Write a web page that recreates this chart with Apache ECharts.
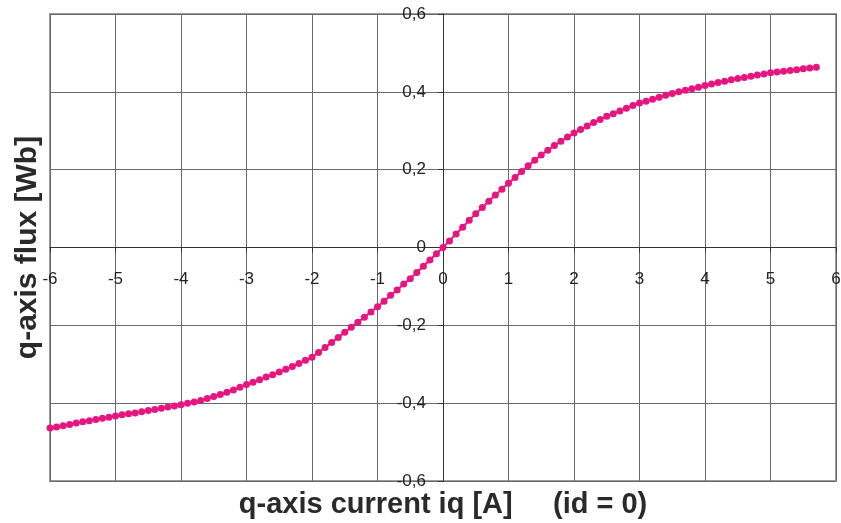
<!DOCTYPE html>
<html>
<head>
<meta charset="utf-8">
<script src="https://cdn.jsdelivr.net/npm/echarts@6/dist/echarts.min.js"></script>
<style>
  html, body { margin: 0; padding: 0; background: #fff; }
  #chart { width: 841px; height: 523px; }
</style>
</head>
<body>
<div id="chart"></div>
<script>
// q-axis current iq [A], sampled every 0.1 A
const currents = [
  -6.0, -5.9, -5.8, -5.7, -5.6, -5.5, -5.4, -5.3, -5.2, -5.1,
  -5.0, -4.9, -4.8, -4.7, -4.6, -4.5, -4.4, -4.3, -4.2, -4.1,
  -4.0, -3.9, -3.8, -3.7, -3.6, -3.5, -3.4, -3.3, -3.2, -3.1,
  -3.0, -2.9, -2.8, -2.7, -2.6, -2.5, -2.4, -2.3, -2.2, -2.1,
  -2.0, -1.9, -1.8, -1.7, -1.6, -1.5, -1.4, -1.3, -1.2, -1.1,
  -1.0, -0.9, -0.8, -0.7, -0.6, -0.5, -0.4, -0.3, -0.2, -0.1,
  0.0, 0.1, 0.2, 0.3, 0.4, 0.5, 0.6, 0.7, 0.8, 0.9,
  1.0, 1.1, 1.2, 1.3, 1.4, 1.5, 1.6, 1.7, 1.8, 1.9,
  2.0, 2.1, 2.2, 2.3, 2.4, 2.5, 2.6, 2.7, 2.8, 2.9,
  3.0, 3.1, 3.2, 3.3, 3.4, 3.5, 3.6, 3.7, 3.8, 3.9,
  4.0, 4.1, 4.2, 4.3, 4.4, 4.5, 4.6, 4.7, 4.8, 4.9,
  5.0, 5.1, 5.2, 5.3, 5.4, 5.5, 5.6, 5.7
];

// q-axis flux linkage [Wb] at each current (id = 0)
const fluxQ = [
  -0.464, -0.461, -0.458, -0.455, -0.451, -0.448, -0.445, -0.442, -0.439, -0.436,
  -0.433, -0.430, -0.427, -0.425, -0.422, -0.419, -0.416, -0.413, -0.410, -0.407,
  -0.404, -0.400, -0.397, -0.393, -0.388, -0.383, -0.378, -0.372, -0.366, -0.359,
  -0.352, -0.346, -0.340, -0.333, -0.327, -0.320, -0.313, -0.306, -0.298, -0.290,
  -0.282, -0.270, -0.257, -0.244, -0.231, -0.218, -0.205, -0.192, -0.179, -0.166,
  -0.152, -0.138, -0.123, -0.109, -0.094, -0.080, -0.064, -0.048, -0.032, -0.016,
  0.000, 0.017, 0.035, 0.052, 0.070, 0.087, 0.103, 0.119, 0.135, 0.150,
  0.165, 0.180, 0.195, 0.210, 0.224, 0.238, 0.250, 0.262, 0.273, 0.284,
  0.294, 0.303, 0.312, 0.321, 0.329, 0.337, 0.344, 0.351, 0.358, 0.365,
  0.371, 0.376, 0.381, 0.386, 0.391, 0.396, 0.400, 0.404, 0.408, 0.412,
  0.416, 0.420, 0.424, 0.427, 0.431, 0.434, 0.437, 0.440, 0.443, 0.446,
  0.449, 0.451, 0.453, 0.455, 0.457, 0.459, 0.461, 0.463
];

const xAxisTitle = 'q-axis current iq [A]     (id = 0)';
const yAxisTitle = 'q-axis flux [Wb]';

const points = currents.map((c, i) => [c, fluxQ[i]]);

// plot area and axis ranges
const W = 841, H = 523;
const gridBox = { left: 50, right: 5, top: 14, bottom: 42 };
const xRange = [-6, 6];
const yRange = [-0.6, 0.6];

// shift each axis so that it runs through the origin
const plotW = W - gridBox.left - gridBox.right;
const plotH = H - gridBox.top - gridBox.bottom;
const yAxisShift = -plotW * (0 - xRange[0]) / (xRange[1] - xRange[0]);
const xAxisShift = -plotH * (0 - yRange[0]) / (yRange[1] - yRange[0]);

const labelFont = 'Liberation Sans, Arial, sans-serif';
const curveColor = '#E6157F';

const chart = echarts.init(document.getElementById('chart'), null, { renderer: 'canvas' });

chart.setOption({
  animation: false,
  backgroundColor: '#ffffff',
  grid: {
    left: gridBox.left, right: gridBox.right, top: gridBox.top, bottom: gridBox.bottom,
    containLabel: false,
    outerBoundsMode: 'none',
    show: true,
    borderColor: '#9a9a9a',
    borderWidth: 2,
    backgroundColor: 'transparent'
  },
  xAxis: {
    type: 'value',
    min: xRange[0], max: xRange[1], interval: 1,
    position: 'bottom',
    offset: xAxisShift,
    axisLine: { onZero: false, lineStyle: { color: '#333', width: 1 } },
    axisTick: { show: true, length: 5, lineStyle: { color: '#333' } },
    axisLabel: {
      margin: 23, fontSize: 17, color: '#222', fontFamily: labelFont,
      showMinLabel: true, showMaxLabel: true
    },
    splitLine: { show: true, lineStyle: { color: '#6a6a6a', width: 1 } },
    name: xAxisTitle,
    nameLocation: 'middle',
    nameGap: 243,
    nameTextStyle: { fontSize: 29, fontWeight: 'bold', color: '#2a2a2a', fontFamily: labelFont }
  },
  yAxis: {
    type: 'value',
    min: yRange[0], max: yRange[1], interval: 0.2,
    position: 'left',
    offset: yAxisShift,
    axisLine: { onZero: false, lineStyle: { color: '#333', width: 1 } },
    axisTick: { show: true, length: 5, lineStyle: { color: '#333' } },
    axisLabel: {
      margin: 17, fontSize: 17, color: '#222', fontFamily: labelFont,
      showMinLabel: true, showMaxLabel: true,
      formatter: v => (Math.abs(v) < 1e-9 ? '0' : v.toFixed(1).replace('.', ','))
    },
    splitLine: { show: true, lineStyle: { color: '#6a6a6a', width: 1 } },
    name: yAxisTitle,
    nameLocation: 'middle',
    nameGap: 400,
    nameTextStyle: { fontSize: 30, fontWeight: 'bold', color: '#2a2a2a', fontFamily: labelFont }
  },
  series: [{
    type: 'line',
    data: points,
    showSymbol: true,
    showAllSymbol: true,
    symbol: 'circle',
    symbolSize: 7,
    lineStyle: { color: curveColor, width: 2 },
    itemStyle: { color: curveColor },
    z: 5
  }]
});
</script>
</body>
</html>
